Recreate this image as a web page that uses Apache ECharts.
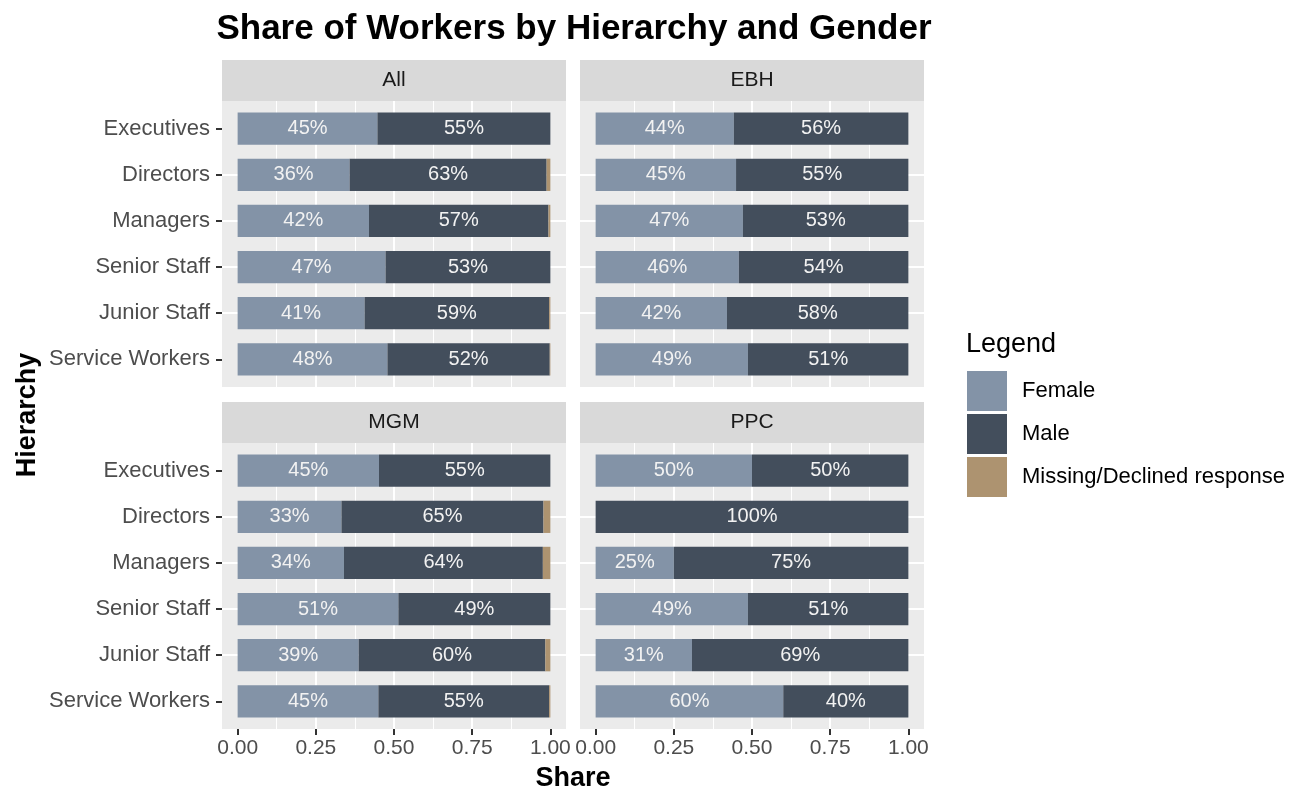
<!DOCTYPE html>
<html>
<head>
<meta charset="utf-8">
<title>Share of Workers by Hierarchy and Gender</title>
<script src="https://cdn.jsdelivr.net/npm/echarts@6/dist/echarts.min.js"></script>
<style>
  html, body { margin: 0; padding: 0; background: #fff; }
  #chart { width: 1298px; height: 793px; }
</style>
</head>
<body>
<div id="chart"></div>
<script>
// categories
const hierarchy = ['Executives', 'Directors', 'Managers', 'Senior Staff', 'Junior Staff', 'Service Workers'];
const panels = ['All', 'EBH', 'MGM', 'PPC'];
const genders = ['Female', 'Male', 'Missing/Declined response'];
const xTicks = [0, 0.25, 0.5, 0.75, 1];
const xMinorTicks = [0, 0.125, 0.25, 0.375, 0.5, 0.625, 0.75, 0.875, 1];
const yTicks = [1, 2, 3, 4, 5, 6];

// shares, in hierarchy order
const femaleAll = [0.447, 0.358, 0.420, 0.473, 0.406, 0.479];
const maleAll = [0.553, 0.630, 0.574, 0.527, 0.590, 0.519];
const missingAll = [0, 0.012, 0.006, 0, 0.004, 0.002];

const femaleEBH = [0.442, 0.449, 0.471, 0.458, 0.420, 0.487];
const maleEBH = [0.558, 0.551, 0.529, 0.542, 0.580, 0.513];
const missingEBH = [0, 0, 0, 0, 0, 0];

const femaleMGM = [0.452, 0.332, 0.340, 0.514, 0.387, 0.450];
const maleMGM = [0.548, 0.646, 0.636, 0.486, 0.597, 0.546];
const missingMGM = [0, 0.022, 0.024, 0, 0.016, 0.004];

const femalePPC = [0.500, 0, 0.250, 0.487, 0.308, 0.600];
const malePPC = [0.500, 1.000, 0.750, 0.513, 0.692, 0.400];
const missingPPC = [0, 0, 0, 0, 0, 0];

const panelSeries = {
  All: [femaleAll, maleAll, missingAll],
  EBH: [femaleEBH, maleEBH, missingEBH],
  MGM: [femaleMGM, maleMGM, missingMGM],
  PPC: [femalePPC, malePPC, missingPPC],
};

const colors = ['#8393a7', '#434e5c', '#ad9370'];
const font = '"Liberation Sans", Arial, sans-serif';

// facet layout (ggplot-like panels with strips)
const boxes = [
  { left: 222, top: 101 }, { left: 580, top: 101 },
  { left: 222, top: 443 }, { left: 580, top: 443 },
];
const panelW = 344, panelH = 286, stripH = 41;
const padX = panelW * 0.05 / 1.1;
const padY = panelH * 0.1 / 6.2;

const grid = [], xAxis = [], yAxis = [], series = [], graphic = [];

panels.forEach((name, p) => {
  const b = boxes[p];
  const isLeft = p % 2 === 0;
  const isBottom = p >= 2;

  // background grid: panel + gridlines + ticks
  grid.push({
    left: b.left, top: b.top, width: panelW, height: panelH,
    show: true, backgroundColor: '#ebebeb', borderWidth: 0,
    outerBoundsMode: 'none',
  });
  // data grid: bars
  grid.push({
    left: b.left + padX, top: b.top + padY,
    width: panelW - 2 * padX, height: panelH - 2 * padY,
    outerBoundsMode: 'none',
  });

  const bg = 2 * p;
  xAxis.push({
    type: 'value', gridIndex: bg, min: -0.05, max: 1.05, position: 'bottom',
    minInterval: 0.25, maxInterval: 0.25,
    axisLine: { show: false, onZero: false },
    axisTick: { show: isBottom, customValues: xTicks, length: 6, lineStyle: { color: '#333', width: 2 } },
    axisLabel: {
      show: isBottom, customValues: xTicks, margin: 9,
      formatter: v => v.toFixed(2), color: '#4d4d4d', fontSize: 21, fontFamily: font,
    },
    splitLine: { show: true, showMinLine: false, showMaxLine: false, lineStyle: { color: '#fff', width: 2 } },
    z: 1,
  });
  xAxis.push({
    type: 'value', gridIndex: bg, min: -0.05, max: 1.05, position: 'bottom',
    minInterval: 0.125, maxInterval: 0.125,
    axisLine: { show: false, onZero: false },
    axisTick: { show: false, customValues: xMinorTicks },
    axisLabel: { show: false, customValues: xMinorTicks },
    splitLine: { show: true, showMinLine: false, showMaxLine: false, lineStyle: { color: '#fff', width: 1 } },
    z: 0,
  });
  xAxis.push({
    type: 'value', gridIndex: bg + 1, min: 0, max: 1, show: false,
    splitLine: { show: false },
  });

  yAxis.push({
    type: 'value', gridIndex: bg, min: 0.4, max: 6.6, inverse: true, position: 'left',
    minInterval: 1, maxInterval: 1,
    axisLine: { show: false, onZero: false },
    axisTick: { show: isLeft, customValues: yTicks, length: 6, lineStyle: { color: '#333', width: 2 } },
    axisLabel: {
      show: isLeft, customValues: yTicks, margin: 12,
      formatter: v => hierarchy[Math.round(v) - 1] || '',
      color: '#4d4d4d', fontSize: 22, fontFamily: font,
    },
    splitLine: { show: true, showMinLine: false, showMaxLine: false, lineStyle: { color: '#fff', width: 2 } },
  });
  yAxis.push({
    type: 'category', gridIndex: bg + 1, data: hierarchy, inverse: true, show: false,
  });

  panelSeries[name].forEach((vals, g) => {
    series.push({
      name: genders[g],
      type: 'bar',
      stack: 'panel' + p,
      xAxisIndex: 3 * p + 2,
      yAxisIndex: 2 * p + 1,
      barWidth: '70%',
      data: vals,
      itemStyle: { color: colors[g] },
      label: {
        show: g < 2,
        position: 'inside',
        color: '#f2f2f2',
        fontSize: 20,
        fontFamily: font,
        formatter: d => (d.value > 0 ? Math.round(d.value * 100) + '%' : ''),
      },
      emphasis: { disabled: true },
    });
  });

  // strip
  graphic.push({
    type: 'rect', left: b.left, top: b.top - stripH,
    shape: { width: panelW, height: stripH },
    style: { fill: '#d9d9d9' },
  });
  graphic.push({
    type: 'text', x: b.left + panelW / 2, y: b.top - stripH / 2,
    style: {
      text: name, fill: '#1a1a1a', font: '21px ' + font,
      textAlign: 'center', textVerticalAlign: 'middle',
    },
  });
});

// titles
graphic.push({
  type: 'text', x: 574, y: 29,
  style: {
    text: 'Share of Workers by Hierarchy and Gender', fill: '#000',
    font: 'bold 35px ' + font, textAlign: 'center', textVerticalAlign: 'middle',
  },
});
graphic.push({
  type: 'text', x: 573, y: 779,
  style: {
    text: 'Share', fill: '#000', font: 'bold 27px ' + font,
    textAlign: 'center', textVerticalAlign: 'middle',
  },
});
graphic.push({
  type: 'text', x: 28, y: 415, rotation: Math.PI / 2,
  style: {
    text: 'Hierarchy', fill: '#000', font: 'bold 27px ' + font,
    textAlign: 'center', textVerticalAlign: 'middle',
  },
});
graphic.push({
  type: 'text', x: 966, y: 345,
  style: {
    text: 'Legend', fill: '#000', font: '27px ' + font,
    textAlign: 'left', textVerticalAlign: 'middle',
  },
});

const chart = echarts.init(document.getElementById('chart'), null, { renderer: 'canvas' });
chart.setOption({
  backgroundColor: '#fff',
  animation: false,
  grid: grid,
  xAxis: xAxis,
  yAxis: yAxis,
  series: series,
  graphic: graphic,
  legend: {
    data: genders,
    orient: 'vertical',
    left: 962, top: 366,
    itemWidth: 40, itemHeight: 40, itemGap: 3,
    icon: 'rect',
    selectedMode: false,
    textStyle: { fontSize: 22, color: '#000', fontFamily: font, padding: [0, 0, 0, 10] },
  },
});
</script>
</body>
</html>
